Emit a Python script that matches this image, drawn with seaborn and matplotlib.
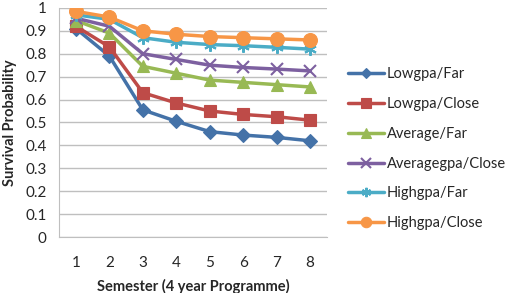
import pandas as pd
import seaborn as sns
import matplotlib.pyplot as plt

semesters = [1, 2, 3, 4, 5, 6, 7, 8]
low_far = [0.91, 0.79, 0.555, 0.505, 0.46, 0.445, 0.435, 0.42]
low_close = [0.92, 0.83, 0.63, 0.585, 0.55, 0.535, 0.525, 0.51]
avg_far = [0.945, 0.89, 0.745, 0.715, 0.685, 0.675, 0.665, 0.655]
avg_close = [0.955, 0.92, 0.80, 0.775, 0.75, 0.74, 0.733, 0.725]
high_far = [0.97, 0.95, 0.87, 0.85, 0.84, 0.835, 0.828, 0.82]
high_close = [0.985, 0.96, 0.90, 0.885, 0.875, 0.87, 0.865, 0.86]

groups = ["Lowgpa/Far", "Lowgpa/Close", "Average/Far",
          "Averagegpa/Close", "Highgpa/Far", "Highgpa/Close"]
series = [low_far, low_close, avg_far, avg_close, high_far, high_close]

df = pd.concat([pd.DataFrame({"Semester": semesters, "Survival": s, "Group": g})
                for g, s in zip(groups, series)], ignore_index=True)

colors = ["#4472A8", "#BE4B48", "#98B954", "#7D60A0", "#4BACC6", "#F79646"]
markers = ["D", "s", "^", "x", (6, 2, 0), "o"]
sizes = [7, 9, 9, 9, 9, 10]

sns.set_style("white")
plt.rcParams["font.family"] = ["Lato", "DejaVu Sans"]

fig = plt.figure(figsize=(5.1, 2.93), dpi=100)
ax = fig.add_axes([0.116, 0.191, 0.525, 0.782])

for g, c, m, ms in zip(groups, colors, markers, sizes):
    sns.lineplot(data=df[df["Group"] == g], x="Semester", y="Survival",
                 color=c, marker=m, markersize=ms, linewidth=2.5,
                 markeredgecolor=c, markeredgewidth=1.5 if m in ("x", (6, 2, 0)) else 0.8,
                 label=g, ax=ax)

ax.set_xlim(0.5, 8.5)
ax.set_ylim(0, 1)
ax.set_xticks(semesters)
ax.set_yticks([i / 10 for i in range(11)])
ax.set_yticklabels(["0", "0.1", "0.2", "0.3", "0.4", "0.5", "0.6", "0.7", "0.8", "0.9", "1"])
ax.yaxis.grid(True, color="#BFBFBF", linewidth=1)
ax.tick_params(axis="y", labelsize=11, length=0, pad=9)
ax.tick_params(axis="x", labelsize=11, length=0, pad=14)
for side in ["top", "right"]:
    ax.spines[side].set_visible(False)
for side in ["left", "bottom"]:
    ax.spines[side].set_color("#BFBFBF")
ax.set_xlabel("Semester (4 year Programme)", fontsize=10.5, fontweight="bold", labelpad=6)
ax.set_ylabel("Survival Probability", fontsize=10.5, fontweight="bold", labelpad=6)

leg = ax.legend(loc="center left", bbox_to_anchor=(1.04, 0.385), frameon=False,
                fontsize=10.5, handlelength=2.5, labelspacing=1.08, handletextpad=0.15,
                markerscale=0.75, borderaxespad=0.3)

fig.savefig("out.png", dpi=100)
